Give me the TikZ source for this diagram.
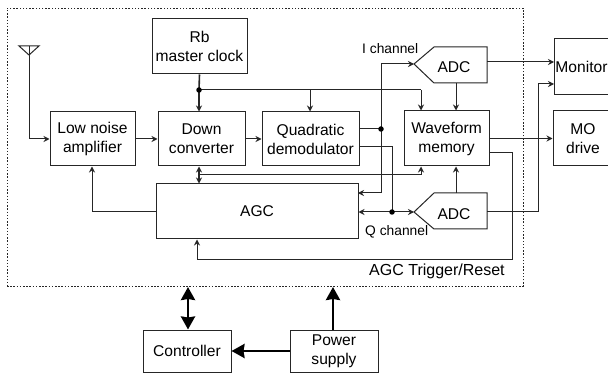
\documentclass[tikz,border=0pt]{standalone}
\usepackage{fontspec}
\setmainfont{Liberation Sans}
\usetikzlibrary{arrows.meta}
\tikzset{
  ink/.style={draw=black!85,line width=1pt},
  box/.style={ink,align=center,inner sep=0pt,font=\fontsize{15.6}{19}\selectfont},
  lbl/.style={inner sep=0pt,font=\fontsize{15.6}{19}\selectfont},
  conn/.style={ink,-{Stealth[length=6pt,width=6pt]}},
  conn2/.style={ink,{Stealth[length=6pt,width=6pt]}-{Stealth[length=6pt,width=6pt]}},
  plain/.style={ink},
  heavy/.style={draw=black,line width=2.8pt,-{Stealth[length=13pt,width=14pt,inset=1pt]}},
  heavy2/.style={draw=black,line width=2.8pt,{Stealth[length=13pt,width=14pt,inset=1pt]}-{Stealth[length=13pt,width=14pt,inset=1pt]}},
  jdot/.style={circle,fill=black,inner sep=0pt,minimum size=5.5pt},
}
\begin{document}
\begin{tikzpicture}[x=1pt,y=-1pt]
\clip (0,0) rectangle (608,374);
\fill[white] (0,0) rectangle (608,374);
% enclosure
\node[draw=black!85,line width=0.9pt,dash pattern=on 1.5pt off 1.7pt,minimum width=516pt,minimum height=278pt,inner sep=0pt] (frame) at (265,147) {};
% blocks
\node[box,minimum width=95pt,minimum height=55pt] (rb) at (199.5,46.5) {Rb\\master clock};
\node[box,minimum width=85pt,minimum height=54pt] (lna) at (92.5,139) {Low noise\\amplifier};
\node[box,minimum width=87pt,minimum height=54pt] (dc) at (201.5,139) {Down\\converter};
\node[box,minimum width=97pt,minimum height=54pt] (qd) at (310.5,139) {Quadratic\\demodulator};
\node[box,minimum width=85pt,minimum height=55pt] (wm) at (446.5,138.5) {Waveform\\memory};
\node[box,minimum width=55pt,minimum height=56pt] (mon) at (581.5,67) {Monitor};
\node[box,minimum width=60pt,minimum height=55pt] (mo) at (583,138.5) {MO\\drive};
\node[box,minimum width=202pt,minimum height=55pt] (agc) at (257,211.5) {AGC};
\node[box,minimum width=88pt,minimum height=42pt] (ctl) at (187,351) {Controller};
\node[box,minimum width=88pt,minimum height=42pt] (pwr) at (334,351) {Power\\supply};
% ADC shapes
\coordinate (itip) at (414,64);
\coordinate (qtip) at (414,212);
\coordinate (itop2) at (456,83);
\coordinate (qtop2) at (456,193);
\draw[ink] (itip) -- (434,47) -- (487,47) -- (487,83) -- (434,83) -- cycle;
\draw[ink] (qtip) -- (434,193) -- (487,193) -- (487,229) -- (434,229) -- cycle;
\node[lbl] (iadc) at (454,67) {ADC};
\node[lbl] (qadc) at (454,214) {ADC};
% labels
\node[lbl,font=\fontsize{13.8}{16}\selectfont,anchor=west] (ilab) at (362,49) {I channel};
\node[lbl,font=\fontsize{13.8}{16}\selectfont,anchor=west] (qlab) at (365,232) {Q channel};
\node[lbl,font=\fontsize{16}{19}\selectfont,anchor=west] (trig) at (369,271) {AGC Trigger/Reset};
% antenna
\coordinate (antL) at (19,46);
\coordinate (antR) at (39,46);
\coordinate (antB) at (29,55);
\coordinate (ant) at (29,46);
\draw[ink] (antL) -- (antR) -- (antB) -- cycle;
\draw[conn] (ant) |- (lna.west);
% chain
\draw[conn] (lna) -- (dc);
\draw[conn] (dc) -- (qd);
% clock
\coordinate (clk) at (199,90);
\coordinate (clkq) at (310,90);
\coordinate (clkw) at (421,90);
\draw[plain,line width=1.6pt] (rb.south) -- (clk);
\draw[conn,line width=1.6pt] (clk) -- (clk |- dc.north);
\draw[plain] (clk) -- (clkw);
\draw[conn] (clkq) -- (clkq |- qd.north);
\draw[conn] (clkw) -- (clkw |- wm.north);
\node[jdot] (clkdot) at (clk) {};
% AGC to down converter and memory
\coordinate (dcb) at (199,175);
\coordinate (wmb) at (421,175);
\draw[conn2,line width=1.4pt] (dcb |- agc.north) -- (dcb |- dc.south);
\draw[conn] (dcb) -- (wmb) -- (wmb |- wm.south);
% I path
\coordinate (idot) at (381,129);
\coordinate (itop) at (381,64);
\coordinate (ibot) at (381,193);
\coordinate (iagc) at (358,193);
\draw[plain] (idot -| qd.east) -- (idot);
\draw[conn] (idot) -- (itop) -- (itip);
\draw[conn] (idot) -- (ibot) -- (iagc);
\node[jdot] (idotn) at (idot) {};
% Q path
\coordinate (qout) at (359,147);
\coordinate (qcor) at (392,147);
\coordinate (qdot) at (392,212);
\draw[plain] (qout) -- (qcor) -- (qdot);
\draw[conn] (qdot) -- (qtip);
\draw[conn] (qdot) -- (qdot -| agc.east);
\node[jdot] (qdotn) at (qdot) {};
% ADC to memory
\draw[conn] (itop2) -- (itop2 |- wm.north);
\draw[conn] (qtop2) -- (qtop2 |- wm.south);
% ADC to monitor
\coordinate (monI) at (554,62);
\coordinate (monQ) at (554,84);
\coordinate (ir) at (487,62);
\coordinate (qr) at (487,212);
\draw[conn] (ir) -- (monI);
\draw[conn] (qr) -- (538,212) -- (538,84) -- (monQ);
% memory to MO
\draw[conn] (wm.east) -- (mo.west);
% trigger
\coordinate (tr1) at (489,153);
\coordinate (tr2) at (512,153);
\coordinate (tr3) at (512,260);
\coordinate (tr4) at (197,260);
\draw[conn] (tr1) -- (tr2) -- (tr3) -- (tr4) -- (tr4 |- agc.south);
% AGC to LNA
\coordinate (al) at (92,212);
\draw[conn] (al -| agc.west) -- (al) -- (al |- lna.south);
% thick
\coordinate (cup) at (188,287);
\coordinate (pup) at (333,287);
\draw[heavy2] (cup) -- (cup |- ctl.north);
\draw[heavy] (pup |- pwr.north) -- (pup);
\draw[heavy] (pwr.west) -- (ctl.east);
\end{tikzpicture}
\end{document}
